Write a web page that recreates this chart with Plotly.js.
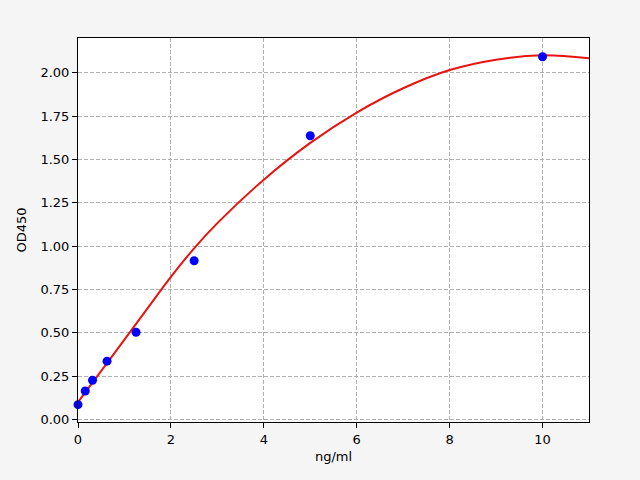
<!DOCTYPE html>
<html>
<head>
<meta charset="utf-8">
<script src="https://cdn.plot.ly/plotly-3.0.1.min.js"></script>
<style>
  html, body { margin: 0; padding: 0; background: #f5f5f5; }
  #chart { width: 640px; height: 480px; }
</style>
</head>
<body>
<div id="chart"></div>
<script>
// Standard points (concentration vs OD)
const concentrations = [0, 0.156, 0.3125, 0.625, 1.25, 2.5, 5, 10];
const odValues = [0.085, 0.164, 0.226, 0.336, 0.503, 0.915, 1.636, 2.092];

// Fitted curve
const fitX = [0, 0.5, 1, 1.5, 2, 2.5, 3, 4, 5, 6, 7, 8, 9, 10, 11];
const fitY = [0.10, 0.28, 0.46, 0.642, 0.822, 0.987, 1.132, 1.383, 1.595, 1.77, 1.91, 2.015, 2.075, 2.10, 2.083];

const xTicks = [0, 2, 4, 6, 8, 10];
const yTicks = [0, 0.25, 0.5, 0.75, 1.0, 1.25, 1.5, 1.75, 2.0];

const FONT = "DejaVu Sans, sans-serif";

const traces = [
    {
        x: fitX,
        y: fitY,
        type: "scatter",
        mode: "lines",
        line: { color: "#e8130f", width: 2, shape: "spline", smoothing: 1 },
        hoverinfo: "skip",
    },
    {
        x: concentrations,
        y: odValues,
        type: "scatter",
        mode: "markers",
        marker: { color: "#0000ff", size: 9 },
        cliponaxis: false,
    },
];

const axisCommon = {
    showline: true, mirror: true, linecolor: "#000", linewidth: 1,
    ticks: "outside", ticklen: 5, tickwidth: 1, tickcolor: "#000",
    showgrid: true, gridcolor: "#b0b0b0", griddash: "4px,2px", gridwidth: 1,
    zeroline: false, automargin: false,
    tickfont: { family: FONT, size: 13, color: "#000" },
};

const layout = {
    width: 640, height: 480,
    paper_bgcolor: "#f5f5f5",
    plot_bgcolor: "#ffffff",
    margin: { t: 38, b: 58, l: 78, r: 51 },
    font: { family: FONT, size: 13, color: "#000" },
    showlegend: false,
    xaxis: {
        ...axisCommon,
        range: [0, 11],
        tickvals: xTicks,
        ticktext: xTicks.map(String),
        title: { text: "ng/ml", font: { family: FONT, size: 13 }, standoff: 6 },
    },
    yaxis: {
        ...axisCommon,
        range: [-0.015, 2.2],
        tickvals: yTicks,
        ticktext: yTicks.map(v => v.toFixed(2)),
        title: { text: "OD450", font: { family: FONT, size: 13 }, standoff: 10 },
    },
};

Plotly.newPlot("chart", traces, layout, { staticPlot: true });
</script>
</body>
</html>
